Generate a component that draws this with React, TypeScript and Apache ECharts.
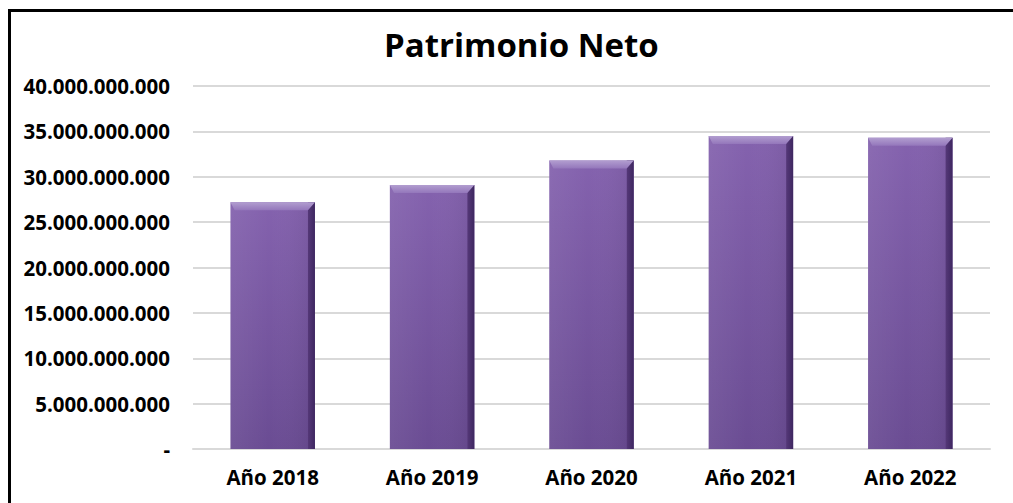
import React, { useEffect, useRef } from "react";
import * as echarts from "echarts";

const title = "Patrimonio Neto";
const categories = ["Año 2018", "Año 2019", "Año 2020", "Año 2021", "Año 2022"];
const values = [27200000000, 29100000000, 31800000000, 34500000000, 34300000000];
const yMax = 40000000000;
const yInterval = 5000000000;

function fmt(v: number): string {
  if (v === 0) return "-";
  return String(Math.round(v)).replace(/\B(?=(\d{3})+(?!\d))/g, ".");
}

export default function App() {
  const ref = useRef<HTMLDivElement>(null);
  useEffect(() => {
    if (!ref.current) return;
    const chart = echarts.init(ref.current, undefined, { renderer: "svg" });
    const font = "Open Sans";
    chart.setOption({
      animation: false,
      backgroundColor: "#ffffff",
      title: {
        text: title,
        left: 379,
        top: 23,
        textStyle: { fontFamily: font, fontWeight: "bold", fontSize: 33, color: "#000" },
      },
      grid: { left: 193, right: 23, top: 86, bottom: 54 },
      xAxis: {
        type: "category",
        data: categories,
        axisTick: { show: false },
        axisLine: { lineStyle: { color: "#d9d9d9", width: 2 } },
        axisLabel: {
          margin: 17,
          fontFamily: font,
          fontWeight: "bold",
          fontSize: 20.5,
          color: "#000",
        },
      },
      yAxis: {
        type: "value",
        min: 0,
        max: yMax,
        interval: yInterval,
        axisLine: { show: false },
        axisTick: { show: false },
        splitLine: { lineStyle: { color: "#d9d9d9", width: 2 } },
        axisLabel: {
          margin: 23,
          fontFamily: font,
          fontWeight: "bold",
          fontSize: 20.5,
          color: "#000",
          formatter: (v: number) => fmt(v),
        },
      },
      graphic: [
        {
          type: "rect",
          left: 7,
          top: 8,
          shape: { x: 0, y: 0, width: 1030, height: 520 },
          style: { fill: "none", stroke: "#000", lineWidth: 3 },
          silent: true,
          z: 100,
        },
      ],
      series: [
        {
          type: "custom",
          data: values.map((v, i) => [i, v]),
          encode: { x: 0, y: 1 },
          renderItem: (params: any, api: any) => {
            const idx = api.value(0);
            const val = api.value(1);
            const top = api.coord([idx, val]);
            const bot = api.coord([idx, 0]);
            const w = api.size([1, 0])[0] * 0.53;
            const x = top[0] - w / 2;
            const y = top[1];
            const h = bot[1] - top[1];
            const side = 7;
            const bev = 8;
            return {
              type: "group",
              children: [
                {
                  type: "rect",
                  shape: { x, y, width: w, height: h },
                  style: {
                    fill: new echarts.graphic.LinearGradient(0, 0, 0, 1, [
                      { offset: 0, color: "#8462ae" },
                      { offset: 1, color: "#6a4c93" },
                    ]),
                  },
                },
                {
                  type: "rect",
                  shape: { x, y, width: w - side, height: h },
                  style: {
                    fill: new echarts.graphic.LinearGradient(0, 0, 1, 0, [
                      { offset: 0, color: "rgba(255,255,255,0.06)" },
                      { offset: 0.5, color: "rgba(255,255,255,0)" },
                      { offset: 1, color: "rgba(0,0,0,0.05)" },
                    ]),
                  },
                },
                {
                  type: "rect",
                  shape: { x: x + w - side, y, width: side, height: h },
                  style: {
                    fill: new echarts.graphic.LinearGradient(0, 0, 1, 0, [
                      { offset: 0, color: "#553878" },
                      { offset: 1, color: "#3e2760" },
                    ]),
                  },
                },
                {
                  type: "polygon",
                  shape: {
                    points: [
                      [x, y],
                      [x + w, y],
                      [x + w - side, y + bev],
                      [x + side * 0.6, y + bev],
                    ],
                  },
                  style: {
                    fill: new echarts.graphic.LinearGradient(0, 0, 0, 1, [
                      { offset: 0, color: "#b29ed0" },
                      { offset: 1, color: "#9477bb" },
                    ]),
                  },
                },
              ],
            };
          },
        },
      ],
    });
    return () => chart.dispose();
  }, []);
  return (
    <div
      ref={ref}
      style={{ position: "fixed", left: 0, top: 0, width: 1013, height: 503 }}
    />
  );
}
